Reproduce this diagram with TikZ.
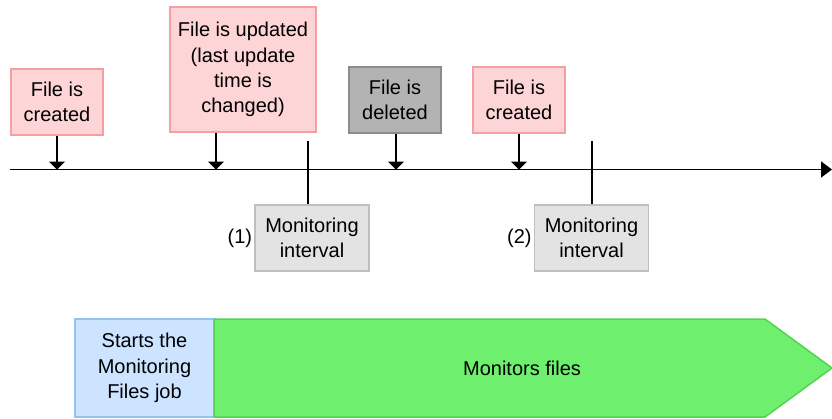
\documentclass[tikz,border=0pt]{standalone}
\usepackage{fontspec}
\setmainfont{Liberation Sans}
\usetikzlibrary{arrows.meta}
\definecolor{pinkfill}{HTML}{FDD5D6}
\definecolor{pinkline}{HTML}{F4A0A2}
\definecolor{darkfill}{HTML}{B3B3B3}
\definecolor{darkline}{HTML}{8C8C8C}
\definecolor{lightfill}{HTML}{E3E3E3}
\definecolor{lightline}{HTML}{BFBFBF}
\definecolor{bluefill}{HTML}{CCE4FF}
\definecolor{blueline}{HTML}{94C2F2}
\definecolor{greenfill}{HTML}{6EEF6E}
\definecolor{greenline}{HTML}{52D452}
\tikzset{
  txt/.style={font=\fontsize{20}{25.3}\selectfont, align=center, inner sep=0pt},
  evbox/.style={txt, draw=pinkline, fill=pinkfill, line width=1.5pt, minimum width=92pt},
  delbox/.style={txt, draw=darkline, fill=darkfill, line width=1.5pt, minimum width=92pt, minimum height=66pt},
  monbox/.style={txt, draw=lightline, fill=lightfill, line width=1.5pt, minimum width=114pt, minimum height=66pt},
  evarrow/.style={line width=1.6pt, -{Triangle[length=8pt,width=16pt]}},
  monline/.style={line width=1.6pt},
}
\begin{document}
\begin{tikzpicture}[x=1pt,y=-1pt]
\useasboundingbox (0,0) rectangle (832,418);
% timeline
\coordinate (tlA) at (10,169.5);
\coordinate (tlB) at (832,169.5);
\draw[line width=1.8pt, -{Triangle[length=11pt,width=16pt]}] (tlA) -- (tlB);
% event boxes
\node[evbox, minimum height=66pt] (c1) at (57,102) {File is\\created};
\node[evbox, minimum width=146pt, minimum height=125pt] (u1) at (243,69.5) {File is updated\\(last update\\time is\\changed)};
\node[delbox] (d1) at (395,100) {File is\\deleted};
\node[evbox, minimum height=66pt] (c2) at (519,100) {File is\\created};
% event arrows
\coordinate (a1) at (57,169.5);
\coordinate (a2) at (216,169.5);
\coordinate (a3) at (396,169.5);
\coordinate (a4) at (519,169.5);
\draw[evarrow] (c1.south -| a1) -- (a1);
\draw[evarrow] (u1.south -| a2) -- (a2);
\draw[evarrow] (d1.south -| a3) -- (a3);
\draw[evarrow] (c2.south -| a4) -- (a4);
% monitoring intervals
\node[monbox] (m1) at (312,238) {Monitoring\\interval};
\node[monbox] (m2) at (591.5,238) {Monitoring\\interval};
\node[txt, anchor=east] (l1) at ([xshift=-2pt]m1.west) {(1)};
\node[txt, anchor=east] (l2) at ([xshift=-2pt]m2.west) {(2)};
\coordinate (t1) at (308,141);
\coordinate (t2) at (592,141);
\draw[monline] (t1) -- (t1 |- m1.north);
\draw[monline] (t2) -- (t2 |- m2.north);
% bottom bar
\node[txt, draw=blueline, fill=bluefill, line width=1.5pt, minimum width=139pt, minimum height=98pt] (s1) at (144.5,368) {Starts the\\Monitoring\\Files job};
\coordinate (g1) at (214,319);
\coordinate (g2) at (765,319);
\coordinate (g3) at (832,368);
\coordinate (g4) at (765,417);
\coordinate (g5) at (214,417);
\draw[draw=greenline, fill=greenfill, line width=1.5pt] (g1) -- (g2) -- (g3) -- (g4) -- (g5) -- cycle;
\node[txt] (mf) at (522,368) {Monitors files};
\end{tikzpicture}
\end{document}
